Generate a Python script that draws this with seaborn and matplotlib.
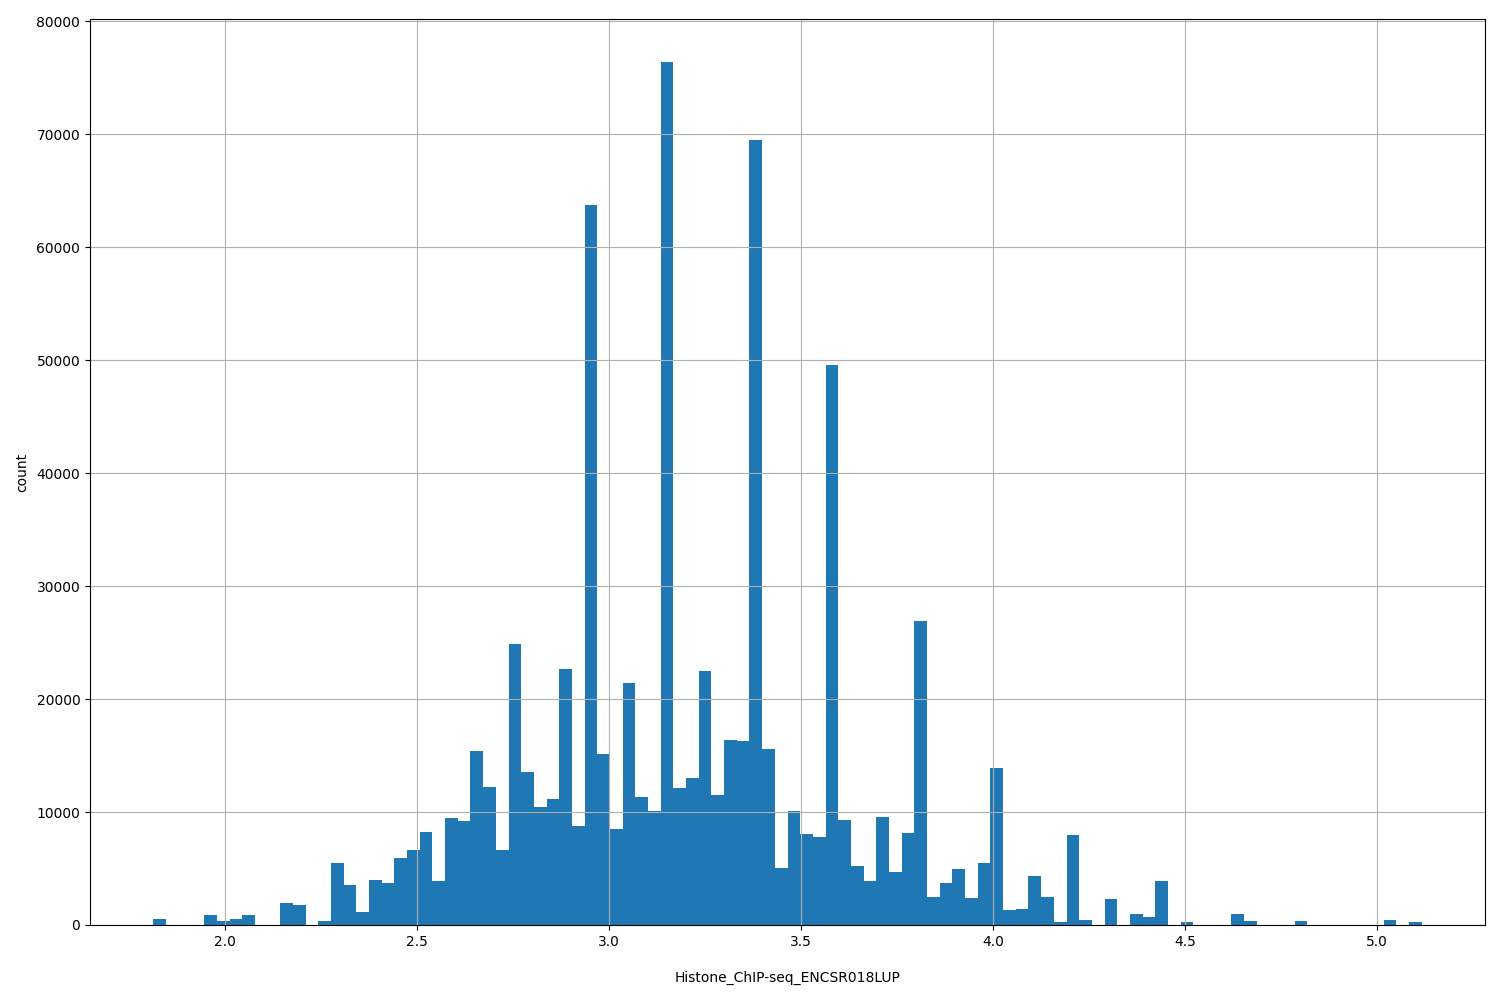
import numpy as np
import matplotlib
matplotlib.use("Agg")
import matplotlib.pyplot as plt
import seaborn as sns

# histogram range and per-bin counts (100 bins)
bin_lo = 1.813
bin_hi = 5.116
counts = [
    560, 0, 0, 0, 915, 380, 560, 915, 0, 0,
    1980, 1800, 0, 380, 5520, 3570, 1180, 4010, 3750, 5960,
    6670, 8250, 3900, 9470, 9200, 15400, 12210, 6670, 24870, 13540,
    10440, 11150, 22650, 8760, 63740, 15130, 8500, 21420, 11330, 10090,
    76400, 12120, 13010, 22480, 11500, 16370, 16280, 69500, 15580, 5040,
    10090, 8050, 7790, 49580, 9290, 5220, 3890, 9560, 4690, 8140,
    26900, 2480, 3720, 4960, 2390, 5490, 13890, 1330, 1420, 4340,
    2480, 270, 7970, 440, 0, 2300, 0, 970, 710, 3890,
    0, 270, 0, 0, 0, 970, 350, 0, 0, 0,
    350, 0, 0, 0, 0, 0, 0, 440, 0, 270,
]
xlabel = "Histone_ChIP-seq_ENCSR018LUP"

edges = np.linspace(bin_lo, bin_hi, len(counts) + 1)
centers = (edges[:-1] + edges[1:]) / 2

fig, ax = plt.subplots(figsize=(15, 10), dpi=100)
fig.subplots_adjust(left=0.06, right=0.99, top=0.981, bottom=0.075)

sns.histplot(x=centers, weights=counts, bins=len(counts), binrange=(bin_lo, bin_hi),
             color="#1f77b4", alpha=1, linewidth=0, ax=ax)

ax.grid(True, color="#b0b0b0")
ax.set_xticks([2.0, 2.5, 3.0, 3.5, 4.0, 4.5, 5.0])
ax.set_yticks(range(0, 80001, 10000))
ax.set_xlabel(xlabel, labelpad=16)
ax.set_ylabel("count", labelpad=5)

fig.savefig("out.png")
